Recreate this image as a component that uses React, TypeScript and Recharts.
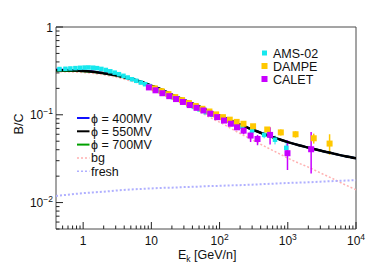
import React from "react";
import { ComposedChart, Line, Scatter, XAxis, YAxis, ErrorBar, ReferenceArea } from "recharts";

// model curves, kinetic energy per nucleon [GeV/n]
const energy = [0.4, 0.6, 0.8, 1, 1.5, 2, 3, 5, 7, 10, 15, 20, 30, 50, 70, 100, 150, 200, 300, 500, 700, 1000, 1500, 2000, 3000, 5000, 7000, 10000];
const phi550 = [0.322, 0.321, 0.319, 0.316, 0.308, 0.298, 0.282, 0.257, 0.238, 0.215, 0.19, 0.17, 0.148, 0.125, 0.11, 0.098, 0.085, 0.077, 0.068, 0.0585, 0.0535, 0.0488, 0.0447, 0.0423, 0.0391, 0.0357, 0.0337, 0.032];
const phi400 = [0.328, 0.326, 0.323, 0.319, 0.31, 0.299, 0.283, 0.257, 0.238, 0.215, 0.19, 0.17, 0.148, 0.125, 0.11, 0.098, 0.085, 0.077, 0.068, 0.0585, 0.0535, 0.0488, 0.0447, 0.0423, 0.0391, 0.0357, 0.0337, 0.032];
const phi700 = [0.317, 0.316, 0.315, 0.313, 0.306, 0.296, 0.281, 0.257, 0.238, 0.215, 0.19, 0.17, 0.148, 0.125, 0.11, 0.098, 0.085, 0.077, 0.068, 0.0585, 0.0535, 0.0488, 0.0447, 0.0423, 0.0391, 0.0357, 0.0337, 0.032];
const bgCurve = [0.31, 0.309, 0.306, 0.303, 0.295, 0.285, 0.268, 0.243, 0.224, 0.2, 0.175, 0.155, 0.133, 0.11, 0.0946, 0.0825, 0.0693, 0.0612, 0.052, 0.0422, 0.037, 0.0321, 0.0278, 0.0253, 0.0218, 0.0181, 0.0159, 0.014];
const freshCurve = [0.0119, 0.0123, 0.0126, 0.0128, 0.0131, 0.0133, 0.0137, 0.0141, 0.0143, 0.0145, 0.0147, 0.0148, 0.015, 0.0152, 0.0154, 0.0155, 0.0157, 0.0158, 0.016, 0.0163, 0.0165, 0.0167, 0.0169, 0.017, 0.0173, 0.0176, 0.0178, 0.018];

// AMS-02
const amsE = [0.45, 0.55, 0.65, 0.77, 0.9, 1.05, 1.2, 1.4, 1.6, 1.85, 2.15, 2.5, 2.9, 3.35, 3.9, 4.5, 5.2, 6, 7, 8.1, 9.4, 11, 12.8, 15, 17.6, 20.7, 24.5, 29, 35, 42, 51, 63, 78, 98, 125, 162, 215, 300, 450, 650, 950];
const amsBC = [0.332, 0.334, 0.337, 0.34, 0.343, 0.345, 0.346, 0.344, 0.34, 0.333, 0.324, 0.313, 0.302, 0.29, 0.278, 0.266, 0.254, 0.244, 0.233, 0.223, 0.212, 0.2, 0.189, 0.178, 0.168, 0.158, 0.149, 0.14, 0.131, 0.123, 0.115, 0.107, 0.1, 0.093, 0.086, 0.079, 0.073, 0.066, 0.059, 0.052, 0.042];
const amsErr = [0.006, 0.006, 0.006, 0.006, 0.006, 0.006, 0.006, 0.006, 0.005, 0.005, 0.005, 0.005, 0.005, 0.004, 0.004, 0.004, 0.004, 0.004, 0.004, 0.004, 0.004, 0.003, 0.003, 0.003, 0.003, 0.003, 0.003, 0.003, 0.003, 0.003, 0.003, 0.003, 0.003, 0.003, 0.003, 0.003, 0.004, 0.004, 0.005, 0.006, 0.008];

// DAMPE
const dampeE = [11.2, 14.1, 17.8, 22.4, 28.2, 35.5, 44.7, 56, 71, 89, 112, 141, 178, 224, 310, 500, 790, 1300, 2400, 4100];
const dampeBC = [0.2, 0.186, 0.172, 0.159, 0.147, 0.136, 0.126, 0.117, 0.109, 0.101, 0.094, 0.088, 0.083, 0.079, 0.074, 0.068, 0.063, 0.06, 0.054, 0.047];
const dampeLo = [0.003, 0.003, 0.003, 0.003, 0.003, 0.003, 0.003, 0.003, 0.003, 0.003, 0.003, 0.003, 0.003, 0.004, 0.004, 0.004, 0.005, 0.005, 0.007, 0.012];
const dampeHi = [0.003, 0.003, 0.003, 0.003, 0.003, 0.003, 0.003, 0.003, 0.003, 0.003, 0.003, 0.003, 0.003, 0.004, 0.004, 0.004, 0.005, 0.005, 0.007, 0.013];

// CALET
const caletE = [9.2, 11.5, 14.5, 18.3, 23, 29, 36.5, 46, 58, 73, 92, 116, 146, 180, 225, 285, 360, 550, 990, 2200];
const caletBC = [0.205, 0.19, 0.176, 0.163, 0.151, 0.14, 0.129, 0.12, 0.112, 0.103, 0.094, 0.086, 0.079, 0.072, 0.066, 0.058, 0.053, 0.059, 0.0365, 0.0405];
const caletLo = [0.004, 0.004, 0.004, 0.004, 0.004, 0.004, 0.004, 0.004, 0.004, 0.004, 0.004, 0.004, 0.004, 0.005, 0.006, 0.009, 0.008, 0.013, 0.013, 0.019];
const caletHi = [0.004, 0.004, 0.004, 0.004, 0.004, 0.004, 0.004, 0.004, 0.004, 0.004, 0.004, 0.004, 0.004, 0.005, 0.006, 0.007, 0.006, 0.013, 0.015, 0.023];

const xTicks = [0.5, 0.6, 0.7, 0.8, 0.9, 1, 2, 3, 4, 5, 6, 7, 8, 9, 10, 20, 30, 40, 50, 60, 70, 80, 90, 100, 200, 300, 400, 500, 600, 700, 800, 900, 1000, 2000, 3000, 4000, 5000, 6000, 7000, 8000, 9000, 10000];
const yTicks = [0.005, 0.006, 0.007, 0.008, 0.009, 0.01, 0.02, 0.03, 0.04, 0.05, 0.06, 0.07, 0.08, 0.09, 0.1, 0.2, 0.3, 0.4, 0.5, 0.6, 0.7, 0.8, 0.9, 1];

const dataLegend = [
  { name: "AMS-02", color: "#16e8ee", size: 5 },
  { name: "DAMPE", color: "#ffc800", size: 6 },
  { name: "CALET", color: "#c800ff", size: 6 },
];
const modelLegend = [
  { name: "ϕ = 400MV", color: "#1010ff", dash: undefined, width: 2 },
  { name: "ϕ = 550MV", color: "#000000", dash: undefined, width: 2 },
  { name: "ϕ = 700MV", color: "#00a000", dash: undefined, width: 2 },
  { name: "bg", color: "#ffb0b0", dash: "2 2", width: 1.5 },
  { name: "fresh", color: "#b0b0ff", dash: "2 2", width: 1.5 },
];

const curveData = energy.map((E, i) => ({
  E,
  phi400: phi400[i],
  phi550: phi550[i],
  phi700: phi700[i],
  bg: bgCurve[i],
  fresh: freshCurve[i],
}));
const amsData = amsE.map((E, i) => ({ E, v: amsBC[i], err: [amsErr[i], amsErr[i]] }));
const dampeData = dampeE.map((E, i) => ({ E, v: dampeBC[i], err: [dampeLo[i], dampeHi[i]] }));
const caletData = caletE.map((E, i) => ({ E, v: caletBC[i], err: [caletLo[i], caletHi[i]] }));

const FONT = "'Liberation Sans', Arial, Helvetica, sans-serif";

const isDecade = (v: number) => Math.abs(Math.log10(v) - Math.round(Math.log10(v))) < 1e-6;

function powLabel(v: number) {
  const p = Math.round(Math.log10(v));
  if (p === 0) return ["1", null];
  if (p === 1) return ["10", null];
  return ["10", p < 0 ? `−${-p}` : `${p}`];
}

const XTick = (props: any) => {
  const { x, y, payload } = props;
  const major = isDecade(payload.value);
  const [base, exp] = powLabel(payload.value);
  return (
    <g>
      <line x1={x} y1={y} x2={x} y2={y - (major ? 7 : 3.5)} stroke="#222" strokeWidth={1} />
      {major && (
        <text x={x} y={y + 16} textAnchor="middle" fontSize={12} fontFamily={FONT} fill="#111">
          {base}
          {exp && (
            <tspan dy={-5} fontSize={8.5}>
              {exp}
            </tspan>
          )}
        </text>
      )}
    </g>
  );
};

const YTick = (props: any) => {
  const { x, y, payload } = props;
  const major = isDecade(payload.value);
  const [base, exp] = powLabel(payload.value);
  return (
    <g>
      <line x1={x} y1={y} x2={x + (major ? 7 : 3.5)} y2={y} stroke="#222" strokeWidth={1} />
      {major && (
        <text x={x - 3} y={y + 4.5} textAnchor="end" fontSize={12} fontFamily={FONT} fill="#111">
          {base}
          {exp && (
            <tspan dy={-5} fontSize={8.5}>
              {exp}
            </tspan>
          )}
        </text>
      )}
    </g>
  );
};

const square = (size: number, color: string) => (props: any) => {
  const { cx, cy } = props;
  if (cx == null || cy == null) return <g />;
  return <rect x={cx - size / 2} y={cy - size / 2} width={size} height={size} fill={color} />;
};

export default function App() {
  return (
    <div style={{ position: "absolute", left: 0, top: 0, width: 374, height: 270, background: "#fff" }}>
      <ComposedChart width={374} height={270} data={curveData} margin={{ top: 27, right: 18, bottom: 0, left: 0 }}>
        <XAxis
          dataKey="E"
          type="number"
          scale="log"
          domain={[0.4, 10000]}
          allowDataOverflow
          ticks={xTicks}
          interval={0}
          tick={<XTick />}
          tickLine={false}
          tickSize={0}
          tickMargin={0}
          axisLine={false}
          height={41}
        />
        <YAxis
          type="number"
          scale="log"
          domain={[0.005, 1]}
          allowDataOverflow
          ticks={yTicks}
          interval={0}
          tick={<YTick />}
          tickLine={false}
          tickSize={0}
          tickMargin={0}
          axisLine={false}
          width={56}
        />
        <ReferenceArea x1={0.4} x2={10000} y1={0.005} y2={1} fill="none" stroke="#4a4a4a" strokeWidth={1} ifOverflow="visible" />
        <Line dataKey="bg" type="monotone" stroke="#ffb0b0" strokeWidth={1.5} strokeDasharray="2 2" dot={false} isAnimationActive={false} />
        <Line dataKey="fresh" type="monotone" stroke="#b0b0ff" strokeWidth={2} strokeDasharray="2 2" dot={false} isAnimationActive={false} />
        <Scatter data={amsData} dataKey="v" shape={square(4.5, "#16e8ee")} isAnimationActive={false}>
          <ErrorBar dataKey="err" direction="y" width={0} stroke="#16e8ee" strokeWidth={1} />
        </Scatter>
        <Scatter data={dampeData} dataKey="v" shape={square(6, "#ffc800")} isAnimationActive={false}>
          <ErrorBar dataKey="err" direction="y" width={0} stroke="#ffc800" strokeWidth={1.5} />
        </Scatter>
        <Scatter data={caletData} dataKey="v" shape={square(6, "#c800ff")} isAnimationActive={false}>
          <ErrorBar dataKey="err" direction="y" width={0} stroke="#c800ff" strokeWidth={1.5} />
        </Scatter>
        <Line dataKey="phi700" type="monotone" stroke="#00a000" strokeWidth={2} dot={false} isAnimationActive={false} />
        <Line dataKey="phi400" type="monotone" stroke="#1010ff" strokeWidth={2} dot={false} isAnimationActive={false} />
        <Line dataKey="phi550" type="monotone" stroke="#000" strokeWidth={2.5} dot={false} isAnimationActive={false} />
      </ComposedChart>
      <svg width={374} height={270} style={{ position: "absolute", left: 0, top: 0, pointerEvents: "none" }}>
        <text transform="translate(23,124) rotate(-90)" textAnchor="middle" fontSize={12.5} fontFamily={FONT} fill="#111">
          B/C
        </text>
        <text x={178} y={259} fontSize={12.5} fontFamily={FONT} fill="#111">
          E
          <tspan dy={3} fontSize={8.5}>k</tspan>
          <tspan dy={-3}> [GeV/n]</tspan>
        </text>
        {dataLegend.map((d, i) => (
          <g key={d.name}>
            <rect x={264.5 - d.size / 2} y={53 + i * 13 - d.size / 2} width={d.size} height={d.size} fill={d.color} />
            <text x={273} y={57.5 + i * 13} fontSize={12.5} fontFamily={FONT} fill="#111">
              {d.name}
            </text>
          </g>
        ))}
        {modelLegend.map((d, i) => (
          <g key={d.name}>
            <line x1={77} x2={89.5} y1={118 + i * 13.3} y2={118 + i * 13.3} stroke={d.color} strokeWidth={d.width} strokeDasharray={d.dash} />
            <text x={91} y={122.5 + i * 13.3} fontSize={12.5} fontFamily={FONT} fill="#111">
              {d.name}
            </text>
          </g>
        ))}
      </svg>
    </div>
  );
}
